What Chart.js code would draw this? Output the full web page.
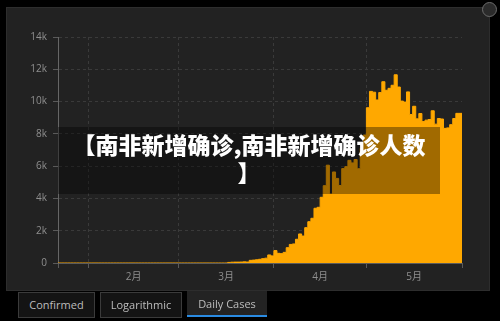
<!DOCTYPE html>
<html lang="zh">
<head>
  <meta charset="UTF-8">
  <title>南非新增确诊</title>
  <script src="https://cdn.jsdelivr.net/npm/chart.js"></script>
  <style>
    html, body {
      margin: 0;
      padding: 0;
      width: 500px;
      height: 321px;
      overflow: hidden;
      background: #000;
      font-family: 'Open Sans', 'Noto Sans CJK SC', sans-serif;
    }

    .panel {
      position: absolute;
      left: 6px;
      top: 7px;
      width: 484px;
      height: 284px;
      background: #222;
      box-shadow: inset 0 0 0 1px #2d2d2d;
    }

    .chart-wrap {
      position: absolute;
      left: 0;
      top: 0;
      width: 500px;
      height: 321px;
    }

    .banner {
      position: absolute;
      left: 58px;
      top: 127px;
      width: 382px;
      height: 67px;
      box-sizing: border-box;
      padding-top: 3px;
      background: rgba(0, 0, 0, 0.37);
      color: #fff;
      font-family: 'Noto Sans CJK SC', sans-serif;
      font-weight: 900;
      font-size: 23px;
      line-height: 28px;
      text-align: center;
      white-space: nowrap;
    }

    .tab {
      position: absolute;
      top: 292px;
      height: 26px;
      box-sizing: border-box;
      border: 1px solid #3b3b3b;
      background: #141414;
      color: #bdbdbd;
      font-size: 11px;
      line-height: 23px;
      text-align: center;
    }

    .tab.active {
      top: 291px;
      border: none;
      border-bottom: 2px solid #2a8be2;
      background: #232323;
      line-height: 25px;
    }

    .fs {
      position: absolute;
      left: 482px;
      top: 2px;
      width: 15px;
      height: 15px;
      box-sizing: border-box;
      border-radius: 50%;
      border: 1px solid #6c6c6c;
      background: #2b2b2b;
    }
  </style>
</head>
<body>

  <div class="panel"></div>
  <div class="chart-wrap"><canvas id="grafico"></canvas></div>
  <div class="banner">【南非新增确诊,南非新增确诊人数<br>】</div>
  <div class="fs"></div>

  <div class="tab" style="left:18px; width:77px;">Confirmed</div>
  <div class="tab" style="left:100px; width:82px;">Logarithmic</div>
  <div class="tab active" style="left:187px; width:80px;">Daily Cases</div>

  <script>
    // día 0 = 22 ene, un valor por día hasta 31 may
    const dailyCases = [
      // 22-31 ene
      0, 0, 0, 0, 0, 0, 0, 0, 0, 0,
      // feb
      0, 0, 0, 0, 0, 0, 0, 0, 0, 0, 0, 0, 0, 0, 0, 0, 0, 0, 0, 0, 0, 0, 0, 0, 0, 0, 0, 0, 0,
      // mar
      0, 0, 0, 0, 0, 0, 0, 0, 0, 0, 0, 0, 0, 0, 0, 0, 0,
      35, 50, 55, 55, 60, 70, 60, 165, 180, 200, 230, 270, 300, 500,
      // abr
      440, 770, 600, 580, 660, 950, 1150, 1180, 1470, 1800,
      1670, 2190, 2560, 2770, 3390, 3450, 4070, 4790, 6060, 4270,
      5640, 5240, 4800, 5850, 5970, 6360, 6200, 6410, 5840, 7100,
      // may
      7930, 9620, 10630, 10580, 10100, 10560, 11230, 10700, 10820, 11010,
      11660, 10900, 10030, 9970, 10600, 9200, 9710, 8930, 9260, 8760,
      8850, 8890, 9430, 8600, 8950, 8920, 8340, 8370, 8570, 8950, 9270
    ];

    const monthStarts = [0, 10, 39, 70, 100, 131];   // 22 ene, 1 feb, 1 mar, 1 abr, 1 may, 1 jun
    const monthLabels = ['2月', '3月', '4月', '5月'];
    const monthLabelDays = [24.5, 54.5, 85, 115.5];
    const yTickLabels = ['0', '2k', '4k', '6k', '8k', '10k', '12k', '14k'];

    const naranja = '#ffa800';
    const gris = '#3a3a3a';
    const fuente = { family: "'Open Sans', 'Noto Sans CJK SC', sans-serif", size: 10 };

    // puntos escalonados; el último se repite para cerrar el último día
    const puntos = dailyCases.map((v, i) => ({ x: i, y: v }));
    puntos.push({ x: dailyCases.length, y: dailyCases[dailyCases.length - 1] });

    const xTicks = monthStarts.concat(monthLabelDays).sort((a, b) => a - b);
    const interior = monthStarts.slice(1, -1);

    const ctx = document.getElementById('grafico').getContext('2d');
    new Chart(ctx, {
      type: 'line',
      data: {
        datasets: [{
          data: puntos,
          stepped: 'after',
          fill: 'origin',
          backgroundColor: naranja,
          borderColor: naranja,
          borderWidth: 1,
          pointRadius: 0
        }]
      },
      options: {
        responsive: true,
        maintainAspectRatio: false,
        animation: false,
        layout: { padding: { left: 28, right: 38, top: 37, bottom: 38 } },
        plugins: {
          legend: { display: false },
          tooltip: { enabled: false }
        },
        scales: {
          x: {
            type: 'linear',
            min: 0,
            max: 131,
            afterBuildTicks: s => { s.ticks = xTicks.map(v => ({ value: v })); },
            afterFit: s => { s.height = 20; },
            ticks: {
              autoSkip: false,
              maxRotation: 0,
              padding: 3,
              color: '#8f8f8f',
              font: fuente,
              callback: v => {
                const k = monthLabelDays.indexOf(v);
                return k >= 0 ? monthLabels[k] : '';
              }
            },
            grid: {
              tickLength: 5,
              color: c => interior.includes(c.tick.value) ? gris : 'transparent',
              tickColor: c => monthStarts.includes(c.tick.value) ? '#5a5a5a' : 'transparent'
            },
            border: { color: '#5c5c5c', dash: [3, 3] }
          },
          y: {
            min: 0,
            max: 14000,
            afterFit: s => { s.width = 30; },
            ticks: {
              stepSize: 2000,
              padding: 6,
              color: '#8f8f8f',
              font: fuente,
              callback: (v, i) => yTickLabels[i]
            },
            grid: {
              tickLength: 5,
              color: c => c.tick.value === 0 ? 'transparent' : gris,
              tickColor: '#5a5a5a'
            },
            border: { color: '#666', dash: [3, 3] }
          }
        }
      }
    });
  </script>

</body>
</html>
